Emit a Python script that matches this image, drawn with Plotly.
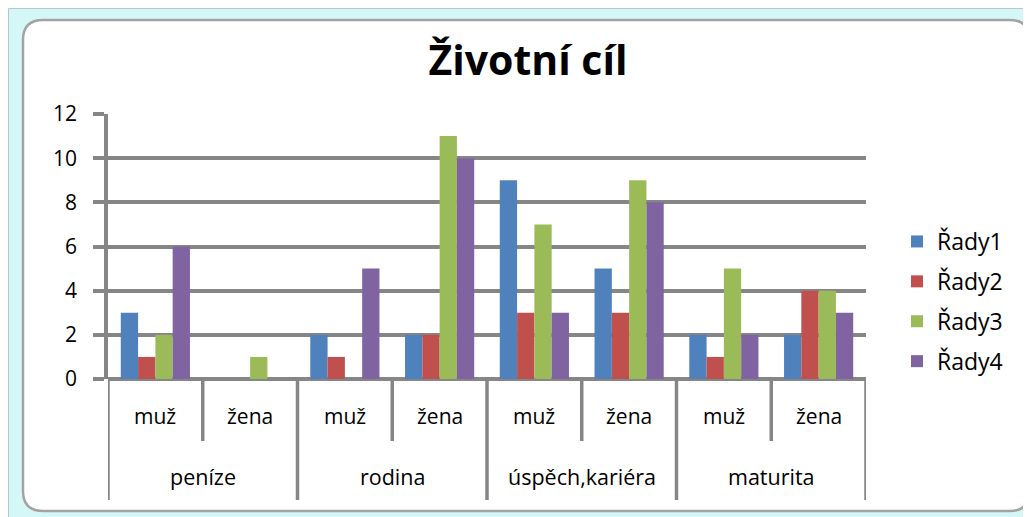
import plotly.graph_objects as go

# ---- data ----
groups = ["peníze", "rodina", "úspěch,kariéra", "maturita"]
genders = ["muž", "žena"]
series_names = ["Řady1", "Řady2", "Řady3", "Řady4"]
rady1 = [3, 0, 2, 2, 9, 5, 2, 2]
rady2 = [1, 0, 1, 2, 3, 3, 1, 4]
rady3 = [2, 1, 0, 11, 7, 9, 5, 4]
rady4 = [6, 0, 5, 10, 3, 8, 2, 3]
y_ticks = [0, 2, 4, 6, 8, 10, 12]
colors = ["#4F81BD", "#C0504D", "#9BBB59", "#8064A2"]

OFF = 8  # page body margin
W, H = 1031 - OFF, 517 - OFF
PL, PR, PT, PB = 108, 866, 114, 379  # plot area in screen px
FONT = "Open Sans"
GRID = "#868686"


def px2x(px):
    return (px - PL) / (PR - PL)


def px2y(py):
    return (PB - py) / (PB - PT)


sub_labels = [g for _ in groups for g in genders]
xpos = list(range(len(sub_labels)))

fig = go.Figure()
for name, vals, c in zip(series_names, [rady1, rady2, rady3, rady4], colors):
    fig.add_trace(go.Bar(x=xpos, y=vals, name=name, marker=dict(color=c, line=dict(width=0)),
                         legendgroup=name))

shapes = []
# outer spreadsheet-ish frame
shapes.append(dict(type="rect", xref="paper", yref="paper", layer="below",
                   x0=px2x(8.5), x1=px2x(1040), y0=px2y(8.5), y1=px2y(530),
                   fillcolor="#D6F7F8", line=dict(color="#B5C7CC", width=1)))

# rounded white chart box
x0, x1, y0, y1, r = 23, 1029.5, 20, 511, 20


def P(px, py):
    return f"{px2x(px):.5f},{px2y(py):.5f}"


path = (f"M {P(x0 + r, y0)} L {P(x1 - r, y0)} Q {P(x1, y0)} {P(x1, y0 + r)} "
        f"L {P(x1, y1 - r)} Q {P(x1, y1)} {P(x1 - r, y1)} "
        f"L {P(x0 + r, y1)} Q {P(x0, y1)} {P(x0, y1 - r)} "
        f"L {P(x0, y0 + r)} Q {P(x0, y0)} {P(x0 + r, y0)} Z")
shapes.append(dict(type="path", xref="paper", yref="paper", layer="below", path=path,
                   fillcolor="white", line=dict(color="#A3A3A3", width=2.5)))

# category dividers
for k in range(len(sub_labels) + 1):
    bottom = 500 if k % 2 == 0 else 441
    shapes.append(dict(type="line", xref="x", yref="paper", layer="above",
                       x0=k - 0.5, x1=k - 0.5, y0=px2y(PB), y1=px2y(bottom),
                       line=dict(color=GRID, width=3.5)))

annotations = []
for i, lab in enumerate(sub_labels):
    annotations.append(dict(x=i, y=px2y(416), xref="x", yref="paper", text=lab,
                            showarrow=False, font=dict(family=FONT, size=21, color="#000"),
                            xanchor="center", yanchor="middle"))
for j, g in enumerate(groups):
    annotations.append(dict(x=2 * j + 0.5, y=px2y(476), xref="x", yref="paper", text=g,
                            showarrow=False, font=dict(family=FONT, size=21.5, color="#000"),
                            xanchor="center", yanchor="middle"))

fig.update_layout(
    width=W, height=H,
    margin=dict(l=PL - OFF, r=W + OFF - PR, t=PT - OFF, b=H + OFF - PB, pad=0),
    paper_bgcolor="white",
    plot_bgcolor="rgba(0,0,0,0)",
    barmode="group", bargap=0.27, bargroupgap=0,
    title=dict(text="<b>Životní cíl</b>", x=(528 - OFF) / W, xref="container", xanchor="center",
               y=1 - (61 - OFF) / H, yref="container", yanchor="middle",
               font=dict(family=FONT, size=41, color="#000")),
    xaxis=dict(range=[-0.5, len(sub_labels) - 0.5], showticklabels=False, showgrid=False,
               zeroline=False, showline=False, ticks="", fixedrange=True),
    yaxis=dict(range=[0, 12], tickvals=y_ticks, showgrid=True, gridcolor=GRID, gridwidth=3.5,
               zeroline=True, zerolinecolor=GRID, zerolinewidth=3.5,
               showline=True, linecolor=GRID, linewidth=3.5,
               ticks="outside", ticklen=11, tickwidth=3.5, tickcolor=GRID,
               ticklabelstandoff=12,
               tickfont=dict(family=FONT, size=21, color="#000")),
    legend=dict(x=px2x(897), y=px2y(220), xanchor="left", yanchor="top",
                font=dict(family=FONT, size=23, color="#000"),
                tracegroupgap=7, bgcolor="rgba(0,0,0,0)", traceorder="grouped"),
    shapes=shapes,
    annotations=annotations,
)

fig.write_html("out.html")
